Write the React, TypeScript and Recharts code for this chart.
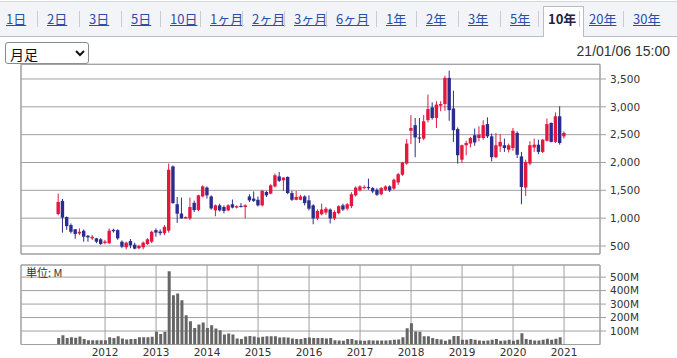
import React from 'react'
import { Bar, CartesianGrid, ComposedChart, ReferenceArea, XAxis, YAxis } from 'recharts'

// monthly candles, Feb 2011 .. Jan 2021 (index 0 = 2011/02)
const opens = [
  1075, 1310, 1020, 875, 800, 725, 773, 684, 637, 637, 620,
  555, 550, 790, 785, 577, 477, 590, 523, 460, 477, 535, 577,
  785, 760, 730, 775, 1930, 1250, 1083, 995, 995, 1275, 1145, 1390,
  1550, 1390, 1140, 1230, 1200, 1140, 1250, 1190, 1220, 1200, 1390, 1350,
  1330, 1230, 1470, 1440, 1570, 1750, 1680, 1740, 1450, 1330, 1330, 1390,
  1320, 1230, 995, 1070, 1100, 1155, 995, 1090, 1230, 1170, 1215, 1410,
  1500, 1540, 1560, 1540, 1510, 1430, 1510, 1570, 1530, 1640, 1780, 1980,
  2570, 2670, 2450, 2430, 2760, 2990, 2800, 3020, 3050, 3520, 2970, 2600,
  2050, 2310, 2340, 2490, 2440, 2440, 2690, 2470, 2095, 2290, 2310, 2230,
  2260, 2530, 2110, 1550, 1980, 2270, 2320, 2190, 2390, 2710, 2370, 2830,
  2470,
]
const highs = [
  1440, 1345, 1030, 905, 805, 816, 798, 696, 696, 645, 640,
  610, 815, 810, 800, 600, 577, 625, 560, 520, 580, 640, 775,
  815, 800, 875, 1980, 1945, 1380, 1370, 1030, 1370, 1315, 1420, 1590,
  1570, 1410, 1245, 1260, 1230, 1250, 1335, 1230, 1270, 1250, 1430, 1480,
  1390, 1510, 1490, 1610, 1800, 1830, 1730, 1750, 1490, 1490, 1420, 1410,
  1410, 1250, 1160, 1260, 1200, 1175, 1140, 1230, 1260, 1270, 1465, 1570,
  1590, 1590, 1710, 1560, 1540, 1560, 1590, 1590, 1710, 1810, 2010, 2420,
  2850, 2800, 2800, 2850, 3220, 3080, 3100, 3100, 3560, 3650, 3290, 2630,
  2320, 2390, 2460, 2610, 2650, 2760, 2810, 2520, 2530, 2510, 2430, 2340,
  2620, 2560, 2190, 2050, 2380, 2430, 2410, 2420, 2790, 2720, 2900, 3010,
  2560,
]
const lows = [
  1050, 740, 790, 725, 630, 696, 577, 577, 607, 550, 520,
  530, 535, 740, 610, 460, 440, 460, 440, 440, 440, 520, 550,
  666, 690, 695, 740, 1260, 915, 990, 990, 965, 1110, 1125, 1375,
  1350, 1150, 1035, 1120, 1085, 1125, 1175, 1175, 1190, 995, 1290, 1290,
  1210, 1210, 1380, 1430, 1550, 1650, 1490, 1430, 1310, 1320, 1320, 1230,
  1140, 890, 965, 1050, 1060, 905, 965, 1070, 1130, 1140, 1180, 1390,
  1480, 1520, 1510, 1450, 1400, 1410, 1490, 1470, 1510, 1600, 1760, 1960,
  2330, 2095, 2350, 2400, 2720, 2770, 2620, 2920, 2930, 2750, 2370, 1980,
  1990, 2130, 2270, 2300, 2380, 2410, 2440, 2020, 2080, 2190, 2190, 2180,
  2210, 2080, 1250, 1400, 1950, 2190, 2150, 2170, 2380, 2360, 2350, 2320,
  2430,
]
const closes = [
  1290, 1010, 857, 755, 715, 755, 666, 655, 666, 577, 535,
  580, 775, 765, 637, 488, 560, 512, 452, 500, 560, 620, 755,
  740, 730, 845, 1870, 1270, 1080, 995, 1020, 1200, 1145, 1410, 1570,
  1410, 1175, 1230, 1140, 1130, 1230, 1190, 1215, 1200, 1230, 1320, 1310,
  1230, 1490, 1410, 1590, 1770, 1670, 1730, 1450, 1330, 1380, 1390, 1270,
  1170, 995, 1130, 1155, 1170, 995, 1110, 1215, 1155, 1250, 1430, 1550,
  1570, 1560, 1540, 1480, 1420, 1540, 1570, 1500, 1690, 1790, 2000, 2340,
  2620, 2450, 2430, 2740, 2960, 2800, 3040, 3050, 3520, 2940, 2580, 2130,
  2310, 2350, 2440, 2360, 2500, 2670, 2470, 2095, 2310, 2370, 2260, 2310,
  2570, 2140, 1560, 2010, 2310, 2320, 2190, 2410, 2690, 2370, 2830, 2350,
  2530,
]
// volume, millions of shares
const volumes = [
  48, 68, 48, 54, 50, 60, 40, 32, 32, 32, 32,
  32, 54, 49, 62, 44, 37, 40, 40, 54, 54, 54, 58,
  94, 77, 94, 543, 365, 378, 328, 217, 173, 123, 148, 163,
  123, 143, 119, 106, 74, 81, 74, 44, 40, 59, 64, 59,
  52, 57, 62, 62, 62, 52, 54, 52, 44, 40, 40, 49,
  52, 49, 49, 49, 44, 49, 32, 30, 27, 40, 40, 32,
  30, 27, 32, 30, 30, 30, 30, 32, 35, 37, 54, 121,
  158, 96, 94, 62, 62, 49, 40, 37, 27, 37, 64, 64,
  35, 35, 40, 35, 30, 27, 30, 35, 40, 27, 30, 35,
  27, 35, 84, 40, 35, 30, 30, 35, 42, 35, 42, 54,
  3,
]

const years = [2012, 2013, 2014, 2015, 2016, 2017, 2018, 2019, 2020, 2021]
const yearTicks = years.map((y) => (y - 2011) * 12 - 1) // January of each year
const priceTicks = [500, 1000, 1500, 2000, 2500, 3000, 3500]
const volTicks = [100, 200, 300, 400, 500]
const tabs = ['1日', '2日', '3日', '5日', '10日', '1ヶ月', '2ヶ月', '3ヶ月', '6ヶ月', '1年', '2年', '3年', '5年', '10年', '20年', '30年']
const tabLeft = [6, 47, 89, 131, 170, 210, 252, 294, 336, 386, 426, 468, 510, 548, 589, 633]

const RED = '#e4173f'
const BLUE = '#2b2c8e'
const GRID = '#a0a0a0'
const X_DOMAIN: [number, number] = [-8.78, 127.46]
const FONT = '"DejaVu Sans", sans-serif'

const data = opens.map((o, i) => ({
  idx: i,
  open: o,
  high: highs[i],
  low: lows[i],
  close: closes[i],
  vol: volumes[i],
}))

function Candle(props: any) {
  const { x, y, width, height, payload } = props
  if (!payload) return null
  const { open, close, high, low } = payload
  const top = Math.min(y, y + height)
  const h = Math.abs(height)
  const per = high === low ? 0 : h / (high - low)
  const cx = x + width / 2
  const color = close >= open ? RED : BLUE
  const bTop = top + (high - Math.max(open, close)) * per
  const bBot = top + (high - Math.min(open, close)) * per
  return (
    <g>
      <line x1={cx} x2={cx} y1={top} y2={top + h} stroke={color} strokeWidth={1} />
      <rect x={cx - 1.7} y={bTop} width={3.4} height={Math.max(1, bBot - bTop)} fill={color} />
    </g>
  )
}

const tickStyle = { fontSize: 10.5, fill: '#333', fontFamily: FONT }

export default function App() {
  return (
    <div style={{ position: 'fixed', left: 0, top: 0, width: 677, height: 358, background: '#fff', overflow: 'hidden' }}>
      {/* period tabs */}
      <div style={{ position: 'absolute', left: 0, top: 1, width: 677, height: 34, background: '#f2f4f7', borderTop: '1px solid #d4d8de', borderBottom: '1px solid #b9bec6' }} />
      <div style={{ position: 'absolute', left: 543, top: 6, width: 39, height: 30, background: '#fff', border: '1px solid #b9bec6', borderBottom: 'none' }} />
      {tabs.map((t, i) => (
        <span
          key={t}
          style={{
            position: 'absolute',
            left: tabLeft[i],
            top: 9,
            fontSize: 13,
            lineHeight: '20px',
            fontFamily: '"Noto Sans CJK JP", sans-serif',
            color: t === '10年' ? '#222244' : '#2a4fa8',
            fontWeight: t === '10年' ? 'bold' : 'normal',
            textDecoration: t === '10年' ? 'none' : 'underline',
          }}
        >
          {t}
        </span>
      ))}
      {tabLeft.slice(1).map((l, i) => (
        <div key={i} style={{ position: 'absolute', left: l - 10, top: 11, width: 1, height: 16, background: '#c8ccd2' }} />
      ))}

      <select
        defaultValue="月足"
        style={{
          position: 'absolute', left: 5, top: 42, width: 84, height: 22, fontSize: 14,
          fontFamily: '"Noto Sans CJK JP", sans-serif', background: '#fff', color: '#111',
          border: '1px solid #8a8a8a', borderRadius: 3,
        }}
      >
        <option>月足</option>
      </select>
      <div style={{ position: 'absolute', right: 7, top: 43, fontSize: 14, fontFamily: '"Liberation Sans", Arial, sans-serif', color: '#333' }}>
        21/01/06 15:00
      </div>

      {/* price */}
      <div style={{ position: 'absolute', left: 0, top: 60 }}>
        <ComposedChart width={677} height={200} data={data} margin={{ top: 4.3, right: 0, bottom: 6, left: 21 }}>
          <CartesianGrid stroke={GRID} horizontal vertical />
          <XAxis
            dataKey="idx"
            type="number"
            domain={X_DOMAIN}
            ticks={yearTicks}
            allowDataOverflow
            tick={false}
            tickLine={false}
            axisLine={false}
            height={0}
          />
          <YAxis
            orientation="right"
            type="number"
            domain={[356, 3764]}
            ticks={priceTicks}
            allowDataOverflow
            interval={0}
            width={77}
            axisLine={false}
            tickSize={6}
            tickMargin={4}
            tickLine={{ stroke: GRID }}
            tick={tickStyle}
            tickFormatter={(v: number) => v.toLocaleString('en-US')}
          />
          <ReferenceArea x1={X_DOMAIN[0]} x2={X_DOMAIN[1]} y1={356} y2={3764} fill="none" stroke={GRID} strokeWidth={1} ifOverflow="visible" />
          <Bar dataKey={(d: any) => [d.low, d.high]} barSize={4} shape={Candle} isAnimationActive={false} />
        </ComposedChart>
      </div>

      {/* volume */}
      <div style={{ position: 'absolute', left: 0, top: 258 }}>
        <ComposedChart width={677} height={100} data={data} margin={{ top: 7, right: 0, bottom: 0, left: 21 }}>
          <CartesianGrid stroke={GRID} horizontal vertical />
          <XAxis
            dataKey="idx"
            type="number"
            domain={X_DOMAIN}
            ticks={yearTicks}
            allowDataOverflow
            interval={0}
            height={13.5}
            tickLine={false}
            axisLine={false}
            tickSize={2}
            tickMargin={2}
            tick={tickStyle}
            tickFormatter={(v: number) => String(2011 + Math.round((v + 1) / 12))}
          />
          <YAxis
            orientation="right"
            type="number"
            domain={[0, 590]}
            ticks={volTicks}
            allowDataOverflow
            interval={0}
            width={77}
            axisLine={false}
            tickSize={6}
            tickMargin={4}
            tickLine={{ stroke: GRID }}
            tick={tickStyle}
            tickFormatter={(v: number) => `${v}M`}
          />
          <ReferenceArea x1={X_DOMAIN[0]} x2={X_DOMAIN[1]} y1={0} y2={590} fill="none" stroke={GRID} strokeWidth={1} ifOverflow="visible" />
          <Bar dataKey="vol" fill="#666" barSize={3} isAnimationActive={false} />
        </ComposedChart>
      </div>
      <div style={{ position: 'absolute', left: 26, top: 265, fontSize: 11, lineHeight: '14px', fontFamily: '"Noto Sans CJK JP", sans-serif', color: '#333' }}>
        単位: M
      </div>
    </div>
  )
}
